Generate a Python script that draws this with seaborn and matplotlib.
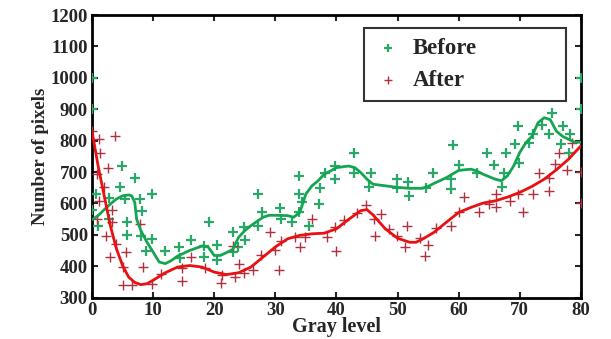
import numpy as np
import pandas as pd
import matplotlib
matplotlib.use('Agg')
import matplotlib.pyplot as plt
import seaborn as sns

before_x = [0, 0, 0, 0.6, 0.9, 2.8, 2.8, 4.9, 4.6, 5.4, 5.7, 5.8, 7.1, 7.9, 8.2, 8.0,
            8.9, 9.8, 9.8, 11.9, 14.2, 14.4, 16.2, 18.3, 18.4, 19.1, 20.5, 20.5, 23.0,
            23.0, 23.9, 24.9, 25.0, 27.1, 27.1, 27.9, 30.7, 30.9, 32.8, 33.8, 33.8,
            33.8, 34.4, 35.5, 37.3, 37.1, 38.1, 39.8, 39.8, 42.9, 42.9, 45.7, 45.4,
            49.9, 49.9, 51.7, 51.8, 54.7, 55.8, 58.8, 58.7, 59.1, 60.1, 63.0, 64.6,
            65.8, 67.1, 67.7, 67.4, 69.7, 69.3, 69.9, 71.6, 72.2, 73.6, 75.3, 74.8,
            77.1, 76.7, 78.3, 78.1, 80, 80]
before_y = [1000, 900, 580, 630, 529, 616, 550, 719, 651, 614, 542, 500, 680, 614, 575,
            495, 448, 630, 485, 447, 461, 426, 482, 464, 429, 542, 466, 418, 508,
            445, 460, 524, 482, 630, 529, 574, 584, 550, 542, 688, 630, 571, 605,
            527, 648, 598, 696, 719, 679, 759, 698, 698, 651, 679, 649, 667, 624,
            649, 698, 677, 647, 785, 723, 698, 759, 723, 651, 759, 698, 848, 788,
            730, 791, 820, 851, 888, 820, 848, 788, 820, 762, 1000, 900]

after_x = [0, 1.1, 1.3, 0.8, 1.9, 1.1, 0.8, 2.6, 3.3, 3.3, 3.8, 2.3, 2.9, 4.0, 5.1,
           5.1, 5.5, 6.6, 7.9, 8.4, 9.8, 11.3, 14.7, 14.8, 16.2, 18.5, 21.2, 21.1,
           23.4, 23.1, 24.0, 24.9, 26.3, 27.6, 29.2, 30.0, 30.6, 30.9, 33.3, 34.0,
           34.9, 36.0, 38.4, 39.8, 40.0, 41.3, 43.4, 44.8, 46.2, 46.3, 47.3, 48.6,
           49.9, 51.2, 51.5, 53.7, 54.5, 55.0, 56.3, 58.7, 60.0, 60.9, 63.3, 64.9,
           66.2, 66.2, 68.4, 69.7, 70.6, 72.2, 73.2, 74.8, 74.8, 75.7, 76.5, 77.8,
           78.6, 80, 80]
after_y = [830, 804, 762, 693, 651, 608, 550, 714, 580, 540, 814, 495, 429, 471, 397,
           341, 445, 339, 535, 397, 344, 376, 352, 393, 429, 393, 371, 345,
           366, 464, 408, 378, 387, 436, 508, 450, 387, 480, 494, 461,
           494, 550, 492, 524, 447, 546, 568, 595, 550, 495, 566, 519,
           495, 461, 529, 489, 432, 466, 521, 529, 574, 619, 571, 598,
           630, 587, 608, 630, 571, 630, 698, 640, 682, 725, 762, 707,
           794, 700, 600]

# fitted curves
before_curve_x = [0, 1, 2, 3, 4, 5, 6, 6.5, 7, 7.3, 8, 9, 10, 11, 12, 13, 14, 16, 18,
                  19, 20, 21, 22, 23, 24, 25, 26, 28, 29, 30, 32, 33, 34, 35, 36, 37,
                  38, 39, 40, 42, 43, 44, 45, 46, 48, 50, 52, 54, 55, 56, 58, 60, 62,
                  63, 64, 65, 66, 67, 68, 69, 70, 71, 72, 73, 74, 75, 76, 77, 78, 79, 80]
before_curve_y = [548, 561, 580, 598, 614, 624, 627, 624, 603, 550, 513, 476, 445, 413,
                  408, 418, 432, 450, 464, 461, 434, 434, 443, 453, 492, 513, 529, 556,
                  562, 562, 561, 556, 571, 630, 656, 672, 693, 703, 714, 719, 714, 698,
                  677, 661, 656, 651, 648, 648, 654, 664, 682, 705, 709, 703, 693, 685,
                  677, 672, 688, 719, 762, 793, 814, 857, 873, 867, 830, 814, 804, 795, 795]
after_curve_x = [0, 1, 2, 3, 4, 5, 6, 7, 8, 9, 10, 12, 14, 16, 18, 20, 22, 24, 26, 28,
                 30, 32, 34, 36, 38, 40, 42, 44, 45, 46, 48, 50, 52, 53, 54, 56, 58,
                 60, 62, 64, 66, 68, 70, 72, 74, 76, 78, 80]
after_curve_y = [830, 719, 624, 529, 455, 402, 365, 348, 341, 344, 355, 379, 397, 402,
                 397, 381, 373, 379, 397, 429, 461, 487, 498, 503, 505, 519, 549, 577,
                 580, 563, 519, 489, 476, 476, 485, 508, 540, 571, 587, 601, 608, 620,
                 635, 654, 677, 707, 741, 783]

green_pts = '#2aa86a'
green_line = '#14a550'
red_pts = '#b03040'
red_line = '#e81010'

sns.set_theme(style='ticks')
plt.rcParams['font.family'] = ['Liberation Serif', 'DejaVu Serif']
plt.rcParams['font.weight'] = 'bold'

fig = plt.figure(figsize=(6.11, 3.39), dpi=100)
ax = fig.add_axes([0.1506, 0.1224, 0.800, 0.833])

sns.scatterplot(x=before_x, y=before_y, marker='+', s=55, color=green_pts,
                linewidth=1.6, ax=ax, label='Before', zorder=3)
sns.scatterplot(x=after_x, y=after_y, marker='+', s=55, color=red_pts,
                linewidth=1.0, ax=ax, label='After', zorder=3)
sns.lineplot(x=before_curve_x, y=before_curve_y, color=green_line, linewidth=2,
             ax=ax, sort=False, estimator=None, legend=False, zorder=4)
sns.lineplot(x=after_curve_x, y=after_curve_y, color=red_line, linewidth=2,
             ax=ax, sort=False, estimator=None, legend=False, zorder=4)

ax.set_xlim(0, 80)
ax.set_ylim(300, 1200)
ax.set_xticks(range(0, 81, 10))
ax.set_yticks(range(300, 1201, 100))
ax.tick_params(direction='in', top=True, right=True, length=4, width=1.5,
               labelsize=13.5, pad=3)
for lbl in ax.get_xticklabels() + ax.get_yticklabels():
    lbl.set_fontweight('bold')
for sp in ax.spines.values():
    sp.set_linewidth(2)
    sp.set_color('black')
    sp.set_visible(True)

ax.set_xlabel('Gray level', fontsize=14.5, fontweight='bold', labelpad=-1)
ax.set_ylabel('Number of pixels', fontsize=13.5, fontweight='bold', labelpad=1)

leg = ax.legend(loc='upper left', bbox_to_anchor=(0.556, 0.719, 0.413, 0.235),
                mode='expand', fontsize=16.5,
                frameon=True, fancybox=False, borderpad=0.45, labelspacing=0.45,
                handletextpad=0.5, handlelength=1.2, markerscale=0.7, borderaxespad=0)
leg.get_frame().set_edgecolor('black')
leg.get_frame().set_linewidth(1.5)
for t in leg.get_texts():
    t.set_fontweight('bold')

fig.savefig('out.png', dpi=100)
